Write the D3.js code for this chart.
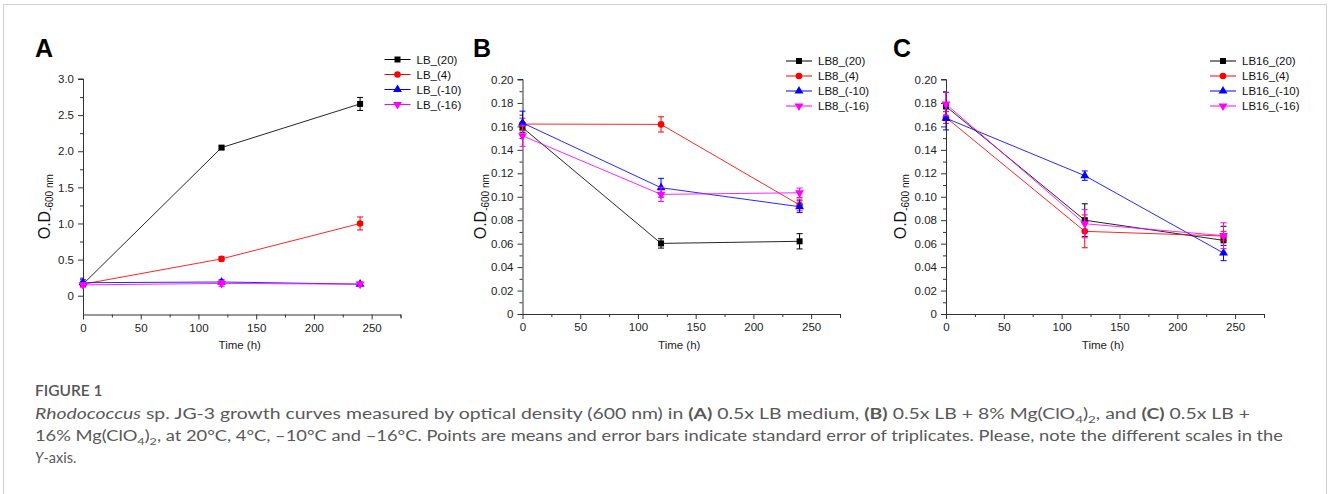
<!DOCTYPE html>
<html>
<head>
<meta charset="utf-8">
<script src="https://cdn.jsdelivr.net/npm/d3@7"></script>
<style>
  body { margin: 0; background: #fff; }
  svg { display: block; }
  .tick-label { font-family: "Liberation Sans", Arial, sans-serif; font-size: 11.5px; fill: #222; }
  .legend-text { font-family: "Liberation Sans", Arial, sans-serif; font-size: 11.5px; fill: #111; }
  .caption { font-family: Lato, "Open Sans", sans-serif; font-size: 14.5px; fill: #595959; }
</style>
</head>
<body>
<div class="chart"></div>
<script>
// Data
//= ================================
var timeH = [0, 120, 240];
var colors = ["#000000", "#ff0000", "#0000ff", "#ff00ff"];

var labelsA = ["LB_(20)", "LB_(4)", "LB_(-10)", "LB_(-16)"];
var meansA = [[0.16, 2.05, 2.655], [0.16, 0.51, 1.0], [0.18, 0.19, 0.16], [0.15, 0.17, 0.16]];
var errsA = [[0.02, 0.02, 0.09], [0.02, 0.03, 0.09], [0.04, 0.03, 0.02], [0.03, 0.04, 0.03]];

var labelsB = ["LB8_(20)", "LB8_(4)", "LB8_(-10)", "LB8_(-16)"];
var meansB = [[0.159, 0.0602, 0.062], [0.162, 0.1617, 0.093], [0.163, 0.1077, 0.0915], [0.152, 0.102, 0.1034]];
var errsB = [[0.004, 0.004, 0.0065], [0.005, 0.0065, 0.005], [0.01, 0.008, 0.005], [0.009, 0.006, 0.004]];

var labelsC = ["LB16_(20)", "LB16_(4)", "LB16_(-10)", "LB16_(-16)"];
var meansC = [[0.177, 0.080, 0.0628], [0.1676, 0.0705, 0.0665], [0.167, 0.118, 0.052], [0.179, 0.077, 0.0668]];
var errsC = [[0.012, 0.014, 0.012], [0.005, 0.014, 0.004], [0.01, 0.004, 0.0065], [0.01, 0.012, 0.011]];

var xTicks = [0, 50, 100, 150, 200, 250];
var yTicksA = [0, 0.5, 1.0, 1.5, 2.0, 2.5, 3.0];
var yTicksBC = [0, 0.02, 0.04, 0.06, 0.08, 0.10, 0.12, 0.14, 0.16, 0.18, 0.20];

// Step 0: Set up the page
//= ================================
var svgWidth = 1328;
var svgHeight = 494;

var svg = d3.select(".chart")
  .append("svg")
  .attr("width", svgWidth)
  .attr("height", svgHeight);

// light frame round the figure
svg.append("rect")
  .attr("x", 3.5).attr("y", 4.5)
  .attr("width", 1323).attr("height", 520)
  .attr("fill", "none")
  .attr("stroke", "#d0d0d0")
  .attr("stroke-width", 1);

var symbols = [d3.symbolSquare, d3.symbolCircle, d3.symbolTriangle, d3.symbolTriangle];
var symbolSizes = [36, 34, 34, 34];
var symbolRotate = [0, 0, 0, 180];

// Draw one panel
function drawPanel(p) {
  var x = d3.scaleLinear().domain([0, 275]).range([p.x0, p.x1]);
  var y = d3.scaleLinear().domain(p.yDomain).range([p.yBottom, p.yTop]);
  var g = svg.append("g");

  // panel letter
  g.append("text")
    .attr("x", p.letterX).attr("y", 57)
    .style("font-family", "Liberation Sans, Arial, sans-serif")
    .style("font-size", "25px").style("font-weight", "bold")
    .text(p.letter);

  // x axis with minor ticks
  var xMinor = d3.axisBottom(x).tickValues(d3.range(25, 276, 50)).tickSize(3).tickFormat("");
  var xMajor = d3.axisBottom(x).tickValues(xTicks).tickSize(5).tickPadding(4).tickFormat(d3.format("d"));
  var gxMinor = g.append("g").attr("transform", "translate(0," + p.yBottom + ")").call(xMinor);
  var gx = g.append("g").attr("transform", "translate(0," + p.yBottom + ")").call(xMajor);
  gxMinor.select(".domain").remove();
  gx.select(".domain").attr("d", "M" + p.x0 + ",0.5H" + (p.x1 + 0.5) + "V4");

  // y axis with minor ticks
  var yMinor = d3.axisLeft(y).tickValues(p.yMinor).tickSize(3).tickFormat("");
  var yMajor = d3.axisLeft(y).tickValues(p.yTicks).tickSize(5).tickPadding(4).tickFormat(p.yFormat);
  var gyMinor = g.append("g").attr("transform", "translate(" + p.x0 + ",0)").call(yMinor);
  var gy = g.append("g").attr("transform", "translate(" + p.x0 + ",0)").call(yMajor);
  gyMinor.select(".domain").remove();
  gy.select(".domain").attr("d", "M-5," + p.yTop + "H0.5V" + p.yBottom);

  [gx, gy, gxMinor, gyMinor].forEach(function(a) {
    a.selectAll("line").attr("stroke", "#333");
    a.selectAll(".domain").attr("stroke", "#333");
    a.selectAll("text").attr("class", "tick-label").attr("fill", null);
  });

  // axis titles
  g.append("text")
    .attr("x", (x(0) + x(275)) / 2 - 2).attr("y", 349)
    .attr("text-anchor", "middle")
    .attr("class", "tick-label")
    .text("Time (h)");

  var yl = g.append("text")
    .attr("transform", "translate(" + p.yLabelX + "," + ((p.yTop + p.yBottom) / 2 + 10) + ") rotate(-90)")
    .attr("text-anchor", "middle")
    .style("font-family", "Liberation Sans, Arial, sans-serif")
    .style("fill", "#111");
  yl.append("tspan").style("font-size", "16px").text("O.D");
  yl.append("tspan").style("font-size", "10px").attr("dy", 3).text("-600 nm");

  // series
  var line = d3.line()
    .x(function(d, i) { return x(timeH[i]); })
    .y(function(d) { return y(d); });

  p.means.forEach(function(series, s) {
    var sg = g.append("g");
    sg.append("path")
      .attr("d", line(series))
      .attr("fill", "none")
      .attr("stroke", colors[s])
      .attr("stroke-width", 1)
      .attr("stroke-opacity", 0.85);

    // error bars
    series.forEach(function(v, i) {
      var e = p.errs[s][i];
      var cx = x(timeH[i]);
      sg.append("path")
        .attr("d", "M" + (cx - 3) + "," + y(v + e) + "H" + (cx + 3) +
          "M" + cx + "," + y(v + e) + "V" + y(v - e) +
          "M" + (cx - 3) + "," + y(v - e) + "H" + (cx + 3))
        .attr("fill", "none")
        .attr("stroke", colors[s])
        .attr("stroke-width", 1);
    });

    sg.selectAll(".marker")
      .data(series)
      .enter()
      .append("path")
      .attr("class", "marker")
      .attr("d", d3.symbol().type(symbols[s]).size(symbolSizes[s]))
      .attr("transform", function(d, i) {
        return "translate(" + x(timeH[i]) + "," + y(d) + ") rotate(" + symbolRotate[s] + ")";
      })
      .attr("fill", colors[s]);
  });

  // legend
  p.labels.forEach(function(lab, s) {
    var ly = p.legendY + s * 15;
    g.append("line")
      .attr("x1", p.legendX).attr("x2", p.legendX + 26)
      .attr("y1", ly).attr("y2", ly)
      .attr("stroke", colors[s]).attr("stroke-width", 1);
    g.append("path")
      .attr("d", d3.symbol().type(symbols[s]).size(symbolSizes[s]))
      .attr("transform", "translate(" + (p.legendX + 13) + "," + ly + ") rotate(" + symbolRotate[s] + ")")
      .attr("fill", colors[s]);
    g.append("text")
      .attr("x", p.legendX + 32).attr("y", ly + 4)
      .attr("class", "legend-text")
      .text(lab);
  });
}

var minorBC = d3.range(1, 20, 2).map(function(d) { return d / 100; });

drawPanel({
  letter: "A", letterX: 35,
  x0: 83, x1: 400.5, yTop: 79, yBottom: 314.5, yDomain: [-0.26, 3.0],
  yTicks: yTicksA, yMinor: [0.25, 0.75, 1.25, 1.75, 2.25, 2.75], yFormat: function(d) { return d === 0 ? "0" : d3.format(".1f")(d); },
  yLabelX: 50,
  means: meansA, errs: errsA, labels: labelsA,
  legendX: 384.5, legendY: 59.5
});

drawPanel({
  letter: "B", letterX: 473,
  x0: 522.5, x1: 840, yTop: 79.5, yBottom: 314, yDomain: [0, 0.2],
  yTicks: yTicksBC, yMinor: minorBC, yFormat: function(d) { return d === 0 ? "0" : d3.format(".2f")(d); },
  yLabelX: 486,
  means: meansB, errs: errsB, labels: labelsB,
  legendX: 786, legendY: 61
});

drawPanel({
  letter: "C", letterX: 893,
  x0: 946, x1: 1264, yTop: 79.5, yBottom: 314, yDomain: [0, 0.2],
  yTicks: yTicksBC, yMinor: minorBC, yFormat: function(d) { return d === 0 ? "0" : d3.format(".2f")(d); },
  yLabelX: 906,
  means: meansC, errs: errsC, labels: labelsC,
  legendX: 1210, legendY: 61
});

// Caption
//= ================================
var cap = svg.append("g");

cap.append("text")
  .attr("x", 35).attr("y", 396)
  .attr("class", "caption")
  .style("font-size", "15.5px")
  .style("fill", "#555")
  .style("font-weight", "600")
  .text("FIGURE 1");

function addRuns(textSel, runs) {
  runs.forEach(function(r) {
    var t = textSel.append("tspan").text(r.t);
    if (r.i) t.style("font-style", "italic");
    if (r.b) t.style("font-weight", "bold");
    if (r.sub) t.style("font-size", "10px").attr("dy", 4);
    if (r.up) t.attr("dy", -4);
  });
}

var line1 = cap.append("text").attr("x", 35).attr("y", 419).attr("class", "caption");
addRuns(line1, [
  { t: "Rhodococcus", i: true },
  { t: " sp. JG-3 growth curves measured by optical density (600 nm) in " },
  { t: "(A)", b: true },
  { t: " 0.5x LB medium, " },
  { t: "(B)", b: true },
  { t: " 0.5x LB + 8% Mg(ClO" },
  { t: "4", sub: true },
  { t: ")", up: true },
  { t: "2", sub: true },
  { t: ", and ", up: true },
  { t: "(C)", b: true },
  { t: " 0.5x LB +" }
]);

var line2 = cap.append("text").attr("x", 35).attr("y", 441).attr("class", "caption");
addRuns(line2, [
  { t: "16% Mg(ClO" },
  { t: "4", sub: true },
  { t: ")", up: true },
  { t: "2", sub: true },
  { t: ", at 20°C, 4°C, \u201310°C and \u201316°C. Points are means and error bars indicate standard error of triplicates. Please, note the different scales in the", up: true }
]);

var line3 = cap.append("text").attr("x", 35).attr("y", 463).attr("class", "caption");
addRuns(line3, [
  { t: "Y", i: true },
  { t: "-axis." }
]);

// stretch caption lines to the widths seen in the figure
line1.attr("textLength", 1215).attr("lengthAdjust", "spacingAndGlyphs");
line2.attr("textLength", 1248).attr("lengthAdjust", "spacingAndGlyphs");
</script>
</body>
</html>
